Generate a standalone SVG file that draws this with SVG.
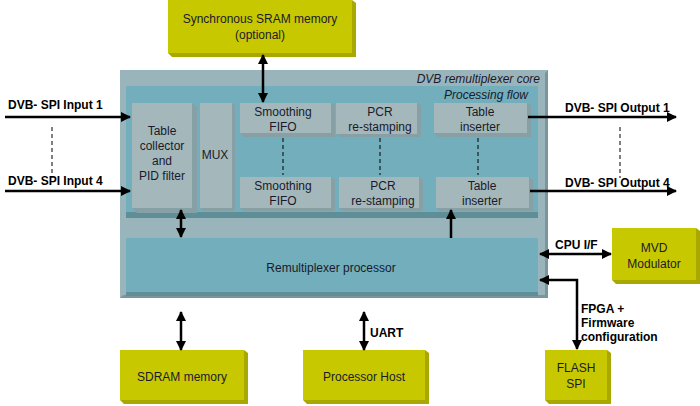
<svg xmlns="http://www.w3.org/2000/svg" width="700" height="406" viewBox="0 0 700 406">
<style>
text{font-family:"Liberation Sans",Arial,sans-serif;font-size:12px;fill:#1a1a2a;text-anchor:middle}
.b{font-weight:bold;fill:#000}
.y{fill:#c8c800}
.ys{fill:#e0e020}
.yd{fill:#a8a800}
.blk{fill:#a4b8bc}
.bd{fill:#86a0a6}
.bl{fill:#b8cacc}
.ln{stroke:#000;stroke-width:2.5;fill:none}
.ds{stroke:#000;stroke-width:1;stroke-dasharray:4,3;fill:none}
</style>
<defs>
<marker id="ah" viewBox="0 0 10 10" refX="9" refY="5" markerWidth="4" markerHeight="4" orient="auto-start-reverse"><path d="M0,0L10,5L0,10z" fill="#000"/></marker>
</defs>
<g id="core">
<rect x="120" y="70" width="428" height="228" fill="#9ab4bc"/>
<path d="M120,298h428v-228l-3,3v222h-422z" fill="#7a969c"/>
<text x="540" y="83" style="font-style:italic;text-anchor:end">DVB remultiplexer core</text>
</g>
<g id="flow">
<rect x="126" y="86" width="412" height="132" fill="#72aebc"/>
<rect x="126" y="212" width="412" height="6" fill="#5e8e98"/>
<text x="528" y="99" style="font-style:italic;text-anchor:end">Processing flow</text>
</g>
<g id="tc"><rect x="132" y="103" width="60" height="105" class="blk"/><path d="M132,208h60v-105l5,4v106h-60z" class="bd"/><text x="162" y="135">Table</text><text x="162" y="150">collector</text><text x="162" y="165">and</text><text x="162" y="180">PID filter</text></g>
<g id="mux"><rect x="200" y="103" width="32" height="105" class="blk"/><path d="M200,208h32v-105l3,3v105h-32z" class="bd"/><text x="215" y="159">MUX</text></g>
<g id="sf1"><rect x="240" y="103" width="91" height="30" class="blk"/><path d="M240,133h91v-30l4,3v31h-91z" class="bd"/><text x="283" y="116">Smoothing</text><text x="283" y="131">FIFO</text></g>
<g id="sf4"><rect x="240" y="177" width="91" height="31" class="blk"/><path d="M240,208h91v-31l4,3v31h-91z" class="bd"/><text x="283" y="190">Smoothing</text><text x="283" y="205">FIFO</text></g>
<g id="pcr1"><rect x="336" y="103" width="81" height="31" class="blk"/><path d="M336,134h81v-31l4,3v31h-81z" class="bd"/><text x="380" y="116">PCR</text><text x="380" y="131">re-stamping</text></g>
<g id="pcr4"><rect x="339" y="177" width="80" height="31" class="blk"/><path d="M339,208h80v-31l4,3v31h-80z" class="bd"/><text x="383" y="190">PCR</text><text x="383" y="205">re-stamping</text></g>
<g id="ti1"><rect x="434" y="103" width="93" height="30" class="blk"/><path d="M434,133h93v-30l4,3v31h-93z" class="bd"/><text x="480" y="116">Table</text><text x="480" y="131">inserter</text></g>
<g id="ti4"><rect x="436" y="177" width="93" height="31" class="blk"/><path d="M436,208h93v-31l4,3v31h-93z" class="bd"/><text x="482" y="190">Table</text><text x="482" y="205">inserter</text></g>
<g id="proc"><rect x="126" y="238" width="412" height="54" fill="#72aebc"/><rect x="126" y="292" width="412" height="4" fill="#5e8e98"/><text x="331" y="272">Remultiplexer processor</text></g>
<g id="sram"><rect x="168" y="0" width="184" height="53" class="y"/><path d="M168,53h184v-53l4,3v54h-184z" class="yd"/><text x="260" y="23">Synchronous SRAM memory</text><text x="260" y="39">(optional)</text></g>
<g id="sdram"><rect x="120" y="350" width="124" height="50" class="y"/><path d="M120,400h124v-50l4,3v51h-124z" class="yd"/><text x="182" y="381">SDRAM memory</text></g>
<g id="host"><rect x="303" y="350" width="122" height="50" class="y"/><path d="M303,400h122v-50l4,3v51h-122z" class="yd"/><text x="364" y="381">Processor Host</text></g>
<g id="mvd"><rect x="612" y="228" width="84" height="52" class="y"/><path d="M612,280h84v-52l4,3v53h-84z" class="yd"/><text x="654" y="252">MVD</text><text x="654" y="268">Modulator</text></g>
<g id="flash"><rect x="545" y="350" width="62" height="50" class="y"/><path d="M545,400h62v-50l4,3v51h-62z" class="yd"/><text x="576" y="372">FLASH</text><text x="576" y="388">SPI</text></g>
<g id="connectors">
<line x1="5" y1="117" x2="130" y2="117" class="ln" marker-end="url(#ah)"/>
<line x1="5" y1="191" x2="130" y2="191" class="ln" marker-end="url(#ah)"/>
<line x1="52" y1="127" x2="52" y2="178" class="ds"/>
<line x1="528" y1="117" x2="676" y2="117" class="ln" marker-end="url(#ah)"/>
<line x1="530" y1="191" x2="676" y2="191" class="ln" marker-end="url(#ah)"/>
<line x1="620" y1="127" x2="620" y2="178" class="ds"/>
<line x1="283" y1="138" x2="283" y2="175" class="ds"/>
<line x1="380" y1="138" x2="380" y2="175" class="ds"/>
<line x1="478" y1="138" x2="478" y2="175" class="ds"/>
<line x1="263" y1="55" x2="263" y2="102" class="ln" marker-start="url(#ah)" marker-end="url(#ah)"/>
<line x1="181" y1="210" x2="181" y2="237" class="ln" marker-start="url(#ah)" marker-end="url(#ah)"/>
<line x1="451" y1="238" x2="451" y2="210" class="ln" marker-end="url(#ah)"/>
<line x1="540" y1="254" x2="611" y2="254" class="ln" marker-start="url(#ah)" marker-end="url(#ah)"/>
<polyline points="540,280 577,280 577,349" class="ln" marker-start="url(#ah)" marker-end="url(#ah)"/>
<line x1="181" y1="312" x2="181" y2="350" class="ln" marker-start="url(#ah)" marker-end="url(#ah)"/>
<line x1="364" y1="312" x2="364" y2="350" class="ln" marker-start="url(#ah)" marker-end="url(#ah)"/>
</g>
<g id="labels">
<text x="8" y="109" class="b" style="text-anchor:start">DVB- SPI Input 1</text>
<text x="8" y="185" class="b" style="text-anchor:start">DVB- SPI Input 4</text>
<text x="565" y="112" class="b" style="text-anchor:start">DVB- SPI Output 1</text>
<text x="565" y="187" class="b" style="text-anchor:start">DVB- SPI Output 4</text>
<text x="555" y="249" class="b" style="text-anchor:start">CPU I/F</text>
<text x="581" y="313" class="b" style="text-anchor:start">FPGA +</text>
<text x="581" y="327" class="b" style="text-anchor:start">Firmware</text>
<text x="581" y="341" class="b" style="text-anchor:start">configuration</text>
<text x="370" y="337" class="b" style="text-anchor:start">UART</text>
</g>
</svg>
